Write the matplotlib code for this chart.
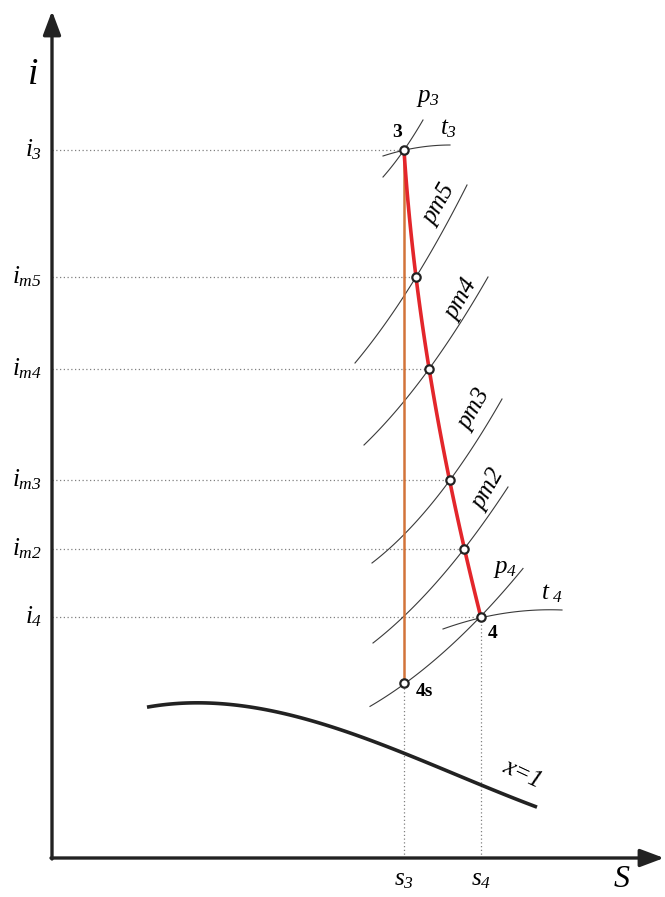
import numpy as np
import matplotlib
matplotlib.use('Agg')
import matplotlib.pyplot as plt

plt.rcParams['mathtext.fontset'] = 'custom'
plt.rcParams['mathtext.it'] = 'Liberation Serif:italic'
plt.rcParams['mathtext.rm'] = 'Liberation Serif:italic'
plt.rcParams['mathtext.bf'] = 'Liberation Serif:bold'
plt.rcParams['font.family'] = 'Liberation Serif'

# expansion line states 3 -> m5 -> m4 -> m3 -> m2 -> 4 (s, i in drawing units)
state_names = ['3', 'm5', 'm4', 'm3', 'm2', '4']
s_real = [352, 364, 377, 398, 412, 429]
i_real = [708, 581, 489, 378, 309, 241]
i_labels = [r'$i_{3}$', r'$i_{m5}$', r'$i_{m4}$',
            r'$i_{m3}$', r'$i_{m2}$', r'$i_{4}$']
s_4s, i_4s = 352, 175

# isobars / isotherms: (s points, i points)
p3_s, p3_i = [331, 352, 371], [681, 708, 738]
t3_s, t3_i = [331, 353, 398], [702, 708, 713]
pm5_s, pm5_i = [303, 364, 415], [495, 581, 673]
pm4_s, pm4_i = [312, 377, 436], [413, 489, 581]
pm3_s, pm3_i = [320, 398, 450], [295, 378, 459]
pm2_s, pm2_i = [321, 412, 456], [215, 309, 371]
p4_s, p4_i = [318, 352, 429, 471], [151, 175, 241, 290]
t4_s, t4_i = [391, 428, 510], [229, 240, 248]

# saturated vapour line x=1
sat_s = [95, 141, 211, 278, 351, 428, 485]
sat_i = [150, 156, 151, 128, 106, 75, 50]

fig = plt.figure(figsize=(6.65, 8.97), dpi=100)
ax = fig.add_axes([0, 0, 1, 1])
ax.set_xlim(-52, 613)
ax.set_ylim(-39, 858)
ax.axis('off')

dark = '#222222'

# axes with arrows
ax.annotate('', xy=(0, 847), xytext=(0, -1),
            arrowprops=dict(arrowstyle='-|>,head_length=0.8,head_width=0.3',
                            lw=2.4, color=dark, mutation_scale=18, shrinkA=0, shrinkB=0))
ax.annotate('', xy=(612, 0), xytext=(-1, 0),
            arrowprops=dict(arrowstyle='-|>,head_length=0.8,head_width=0.3',
                            lw=2.4, color=dark, mutation_scale=18, shrinkA=0, shrinkB=0))
ax.text(-19, 783, r'$i$', fontsize=27, ha='center', va='center')
ax.text(570, -21, r'$S$', fontsize=23, ha='center', va='center')


def smooth(xs, ys, deg=2):
    c = np.polyfit(xs, ys, deg)
    xx = np.linspace(xs[0], xs[-1], 100)
    return xx, np.polyval(c, xx)


for xs, ys in [(p3_s, p3_i), (t3_s, t3_i), (pm5_s, pm5_i), (pm4_s, pm4_i),
               (pm3_s, pm3_i), (pm2_s, pm2_i), (p4_s, p4_i), (t4_s, t4_i)]:
    xx, yy = smooth(xs, ys, 2)
    ax.plot(xx, yy, color='#3a3a3a', lw=0.8, zorder=2)

xx, yy = smooth(sat_s, sat_i, 3)
ax.plot(xx, yy, color=dark, lw=2.6, solid_capstyle='butt', zorder=2)

# dotted guide lines
for s, i, lab in zip(s_real, i_real, i_labels):
    ax.plot([0, s], [i, i], color='#808080', lw=0.9, ls=(0, (1, 2)), zorder=1)
    ax.text(-10, i, lab, fontsize=18, ha='right', va='center')
ax.plot([s_4s, s_4s], [0, i_4s], color='#808080', lw=0.9, ls=(0, (1, 2)), zorder=1)
ax.plot([s_real[-1], s_real[-1]], [0, i_real[-1]], color='#808080', lw=0.9,
        ls=(0, (1, 2)), zorder=1)
ax.text(s_4s, -22, r'$s_{3}$', fontsize=18, ha='center', va='center')
ax.text(s_real[-1], -22, r'$s_{4}$', fontsize=18, ha='center', va='center')

# isentropic and real expansion
ax.plot([s_real[0], s_4s], [i_real[0], i_4s], color='#d2743a', lw=1.8, zorder=3)
c = np.polyfit(i_real, s_real, 3)
ii = np.linspace(i_real[0], i_real[-1], 100)
ax.plot(np.polyval(c, ii), ii, color='#e3262b', lw=2.6, zorder=4)
ax.plot(s_real + [s_4s], i_real + [i_4s], 'o', ms=6, mfc='white', mec=dark,
        mew=1.6, zorder=5, ls='none')

# point labels
ax.text(345, 726, '3', fontsize=14, fontweight='bold', ha='center', va='center')
ax.text(441, 225, '4', fontsize=14, fontweight='bold', ha='center', va='center')
ax.text(372, 167, '4s', fontsize=14, fontweight='bold', ha='center', va='center')

# curve labels
ax.text(376, 760, r'$p_{3}$', fontsize=18, ha='center', va='center')
ax.text(397, 729, r'$t_{3}$', fontsize=18, ha='center', va='center')
ax.text(453, 289, r'$p_{4}$', fontsize=18, ha='center', va='center')
ax.text(500, 264, r'$t_{\ 4}$', fontsize=18, ha='center', va='center')
for lab, s, i in [('pm5', 388, 653), ('pm4', 410, 558), ('pm3', 423, 448),
                  ('pm2', 437, 368)]:
    ax.text(s, i, lab, fontsize=18, style='italic', rotation=60,
            ha='center', va='center', rotation_mode='anchor')
ax.text(470, 84, 'x=1', fontsize=18, style='italic', rotation=-25,
        ha='center', va='center', rotation_mode='anchor')

fig.savefig('out.png', dpi=100)
